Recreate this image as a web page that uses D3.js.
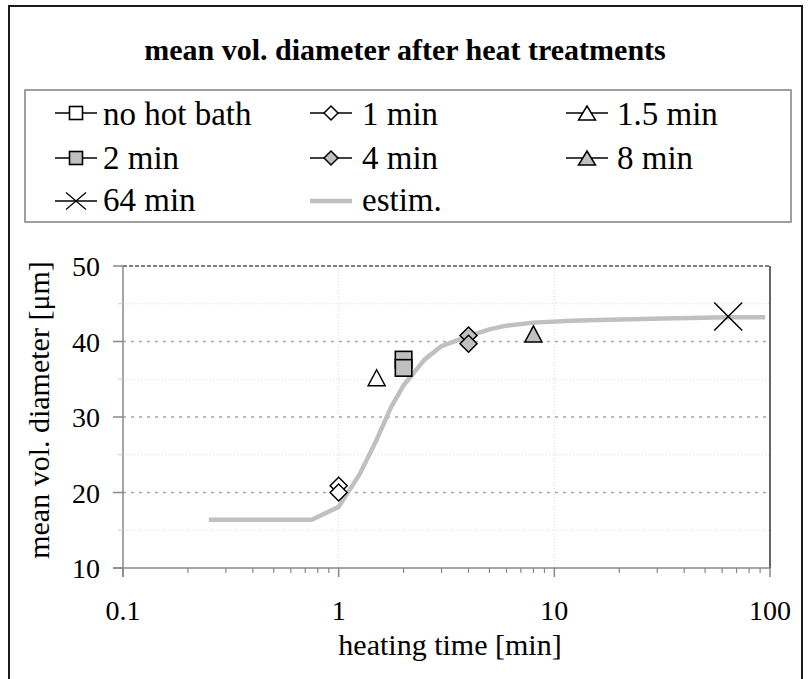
<!DOCTYPE html>
<html><head><meta charset="utf-8">
<script src="https://cdn.jsdelivr.net/npm/d3@7"></script>
<style>html,body{margin:0;padding:0;background:#fff;}</style>
</head><body>
<svg id="c" width="809" height="679"></svg>
<script>
// ---- data ----
const titleText = "mean vol. diameter after heat treatments";
const xTitle = "heating time [min]";
const yTitle = "mean vol. diameter [μm]";
const xTickValues = [0.1, 1, 10, 100];
const xTickLabels = ["0.1", "1", "10", "100"];
const yTickValues = [10, 20, 30, 40, 50];
const yTickLabels = ["10", "20", "30", "40", "50"];
const legendNames = ["no hot bath", "1 min", "1.5 min", "2 min", "4 min", "8 min", "64 min", "estim."];

const noBathTime = [];  const noBathVal = [];
const t1Time = [1, 1];  const t1Val = [20.9, 20.0];
const t15Time = [1.5];  const t15Val = [35.2];
const t2Time = [2, 2];  const t2Val = [37.6, 36.5];
const t4Time = [4, 4];  const t4Val = [40.8, 39.7];
const t8Time = [8];     const t8Val = [41.0];
const t64Time = [64];   const t64Val = [43.3];
const estimTime = [0.25, 0.5, 0.75, 1, 1.25, 1.5, 1.75, 2, 2.5, 3, 4, 5, 6, 8, 12, 16, 32, 64, 95];
const estimVal  = [16.4, 16.4, 16.4, 18.1, 22.4, 27.0, 31.3, 34.2, 37.6, 39.4, 40.7, 41.6, 42.1, 42.5, 42.75, 42.85, 43.05, 43.2, 43.2];

// ---- layout ----
const svg = d3.select("#c");
const L = 123, R = 770, T = 266, B = 568;
const x = d3.scaleLog().domain([0.1, 100]).range([L, R]);
const y = d3.scaleLinear().domain([10, 50]).range([B, T]);
const grayFill = "#c0c0c0";

svg.append("rect").attr("width", 809).attr("height", 679).attr("fill", "#fff");
svg.append("path").attr("d", `M9,690 V6 H802 V690`).attr("fill", "none").attr("stroke", "#1a1a1a").attr("stroke-width", 2);

function txt(g) { return g.append("text").style("font-family", "Liberation Serif").attr("fill", "#000"); }

txt(svg).attr("x", 405).attr("y", 60).attr("text-anchor", "middle")
  .attr("font-weight", "bold").attr("font-size", 30).text(titleText);

svg.append("rect").attr("x", 25).attr("y", 90).attr("width", 766).attr("height", 132)
  .attr("fill", "#fff").attr("stroke", "#808080").attr("stroke-width", 1.5);

// grid
const minorY = [15, 25, 35, 45];
svg.append("g").selectAll("line").data(minorY).join("line")
  .attr("x1", L).attr("x2", R).attr("y1", d => y(d)).attr("y2", d => y(d))
  .attr("stroke", "#dcdcdc").attr("stroke-width", 1).attr("stroke-dasharray", "1,2");
svg.append("g").selectAll("line").data([1, 10]).join("line")
  .attr("x1", d => x(d)).attr("x2", d => x(d)).attr("y1", T).attr("y2", B)
  .attr("stroke", "#dcdcdc").attr("stroke-width", 1).attr("stroke-dasharray", "1,2");
svg.append("g").selectAll("line").data([20, 30, 40]).join("line")
  .attr("x1", L).attr("x2", R).attr("y1", d => y(d)).attr("y2", d => y(d))
  .attr("stroke", "#a8a8a8").attr("stroke-width", 1.4).attr("stroke-dasharray", "3,5");
svg.append("line").attr("x1", L).attr("x2", R).attr("y1", y(50)).attr("y2", y(50))
  .attr("stroke", "#555").attr("stroke-width", 1.3).attr("stroke-dasharray", "4,2");
svg.append("line").attr("x1", R).attr("x2", R).attr("y1", T).attr("y2", B)
  .attr("stroke", "#333").attr("stroke-width", 1.5);

// axes
const axisColor = "#888";
svg.append("line").attr("x1", L).attr("x2", L).attr("y1", T).attr("y2", B + 9)
  .attr("stroke", axisColor).attr("stroke-width", 1.5);
svg.append("line").attr("x1", L - 10).attr("x2", R).attr("y1", B).attr("y2", B)
  .attr("stroke", axisColor).attr("stroke-width", 1.5);
svg.append("g").selectAll("line").data(yTickValues).join("line")
  .attr("x1", L - 10).attr("x2", L).attr("y1", d => y(d)).attr("y2", d => y(d))
  .attr("stroke", axisColor).attr("stroke-width", 1.5);
svg.append("g").selectAll("line").data(minorY).join("line")
  .attr("x1", L - 5).attr("x2", L).attr("y1", d => y(d)).attr("y2", d => y(d))
  .attr("stroke", "#ccc").attr("stroke-width", 1);
const minorX = [];
[0.1, 1, 10].forEach(dec => { for (let k = 2; k <= 9; k++) minorX.push(dec * k); });
svg.append("g").selectAll("line").data(minorX).join("line")
  .attr("x1", d => x(d)).attr("x2", d => x(d)).attr("y1", B).attr("y2", B + 5)
  .attr("stroke", axisColor).attr("stroke-width", 1.2);
svg.append("g").selectAll("line").data(xTickValues).join("line")
  .attr("x1", d => x(d)).attr("x2", d => x(d)).attr("y1", B).attr("y2", B + 9)
  .attr("stroke", axisColor).attr("stroke-width", 1.5);

// tick labels
yTickValues.forEach((v, i) => {
  txt(svg).attr("x", 100).attr("y", y(v) + 10).attr("text-anchor", "end")
    .attr("font-size", 28).text(yTickLabels[i]);
});
xTickValues.forEach((v, i) => {
  txt(svg).attr("x", x(v)).attr("y", 620).attr("text-anchor", "middle")
    .attr("font-size", 28).text(xTickLabels[i]);
});

// axis titles
txt(svg).attr("x", 450).attr("y", 655).attr("text-anchor", "middle")
  .attr("font-size", 30).text(xTitle);
txt(svg).attr("transform", "translate(49,410) rotate(-90)").attr("text-anchor", "middle")
  .attr("font-size", 30).text(yTitle);

// estimate curve
const line = d3.line().x((d, i) => x(estimTime[i])).y(d => y(d)).curve(d3.curveLinear);
svg.append("path").attr("d", line(estimVal)).attr("fill", "none")
  .attr("stroke", grayFill).attr("stroke-width", 4.5).attr("stroke-linejoin", "round");

function square(g, cx, cy, s, fill) {
  g.append("rect").attr("x", cx - s / 2).attr("y", cy - s / 2).attr("width", s).attr("height", s)
    .attr("fill", fill).attr("stroke", "#000").attr("stroke-width", 1.6);
}
function diamond(g, cx, cy, r, fill) {
  g.append("path").attr("d", `M${cx},${cy - r}L${cx + r},${cy}L${cx},${cy + r}L${cx - r},${cy}Z`)
    .attr("fill", fill).attr("stroke", "#000").attr("stroke-width", 1.5);
}
function triangle(g, cx, cy, w, h, fill) {
  g.append("path").attr("d", `M${cx},${cy - h / 2}L${cx + w / 2},${cy + h / 2}L${cx - w / 2},${cy + h / 2}Z`)
    .attr("fill", fill).attr("stroke", "#000").attr("stroke-width", 1.5);
}
function cross(g, cx, cy, rx, ry, sw) {
  g.append("path").attr("d", `M${cx - rx},${cy - ry}L${cx + rx},${cy + ry}M${cx - rx},${cy + ry}L${cx + rx},${cy - ry}`)
    .attr("stroke", "#000").attr("stroke-width", sw).attr("fill", "none");
}

const pts = svg.append("g");
noBathTime.forEach((t, i) => square(pts, x(t), y(noBathVal[i]), 16, "#fff"));
t1Time.forEach((t, i) => diamond(pts, x(t), y(t1Val[i]), 8.5, "#fff"));
t15Time.forEach((t, i) => triangle(pts, x(t), y(t15Val[i]), 17, 16, "#fff"));
t2Time.forEach((t, i) => square(pts, x(t), y(t2Val[i]), 16.5, grayFill));
t4Time.forEach((t, i) => diamond(pts, x(t), y(t4Val[i]), 8.5, grayFill));
t8Time.forEach((t, i) => triangle(pts, x(t), y(t8Val[i]), 17, 16, grayFill));
t64Time.forEach((t, i) => cross(pts, x(t), y(t64Val[i]), 14, 14, 1.5));

// legend
const colX = [55, 310, 566];
const colTextX = [103, 362, 617];
const rowY = [113, 158, 201];
const baseY = [125, 169, 211];
const lg = svg.append("g");
legendNames.forEach((name, i) => {
  const c = i % 3, r = Math.floor(i / 3);
  const x0 = colX[c], cy = rowY[r];
  const cx = x0 + 21;
  if (i === 7) {
    lg.append("line").attr("x1", x0).attr("x2", x0 + 42).attr("y1", cy).attr("y2", cy)
      .attr("stroke", grayFill).attr("stroke-width", 4.5);
  } else {
    lg.append("line").attr("x1", x0).attr("x2", x0 + 42).attr("y1", cy).attr("y2", cy)
      .attr("stroke", "#000").attr("stroke-width", 1.5);
    const fill = (i >= 3) ? grayFill : "#fff";
    if (i === 0 || i === 3) square(lg, cx, cy, 13, fill);
    else if (i === 1 || i === 4) diamond(lg, cx, cy, 7, fill);
    else if (i === 2 || i === 5) triangle(lg, cx, cy, 17, 14, fill);
    else cross(lg, cx, cy, 10, 8.5, 1.2);
  }
  txt(lg).attr("x", colTextX[c]).attr("y", baseY[r]).attr("font-size", 33).text(name);
});
</script>
</body></html>
